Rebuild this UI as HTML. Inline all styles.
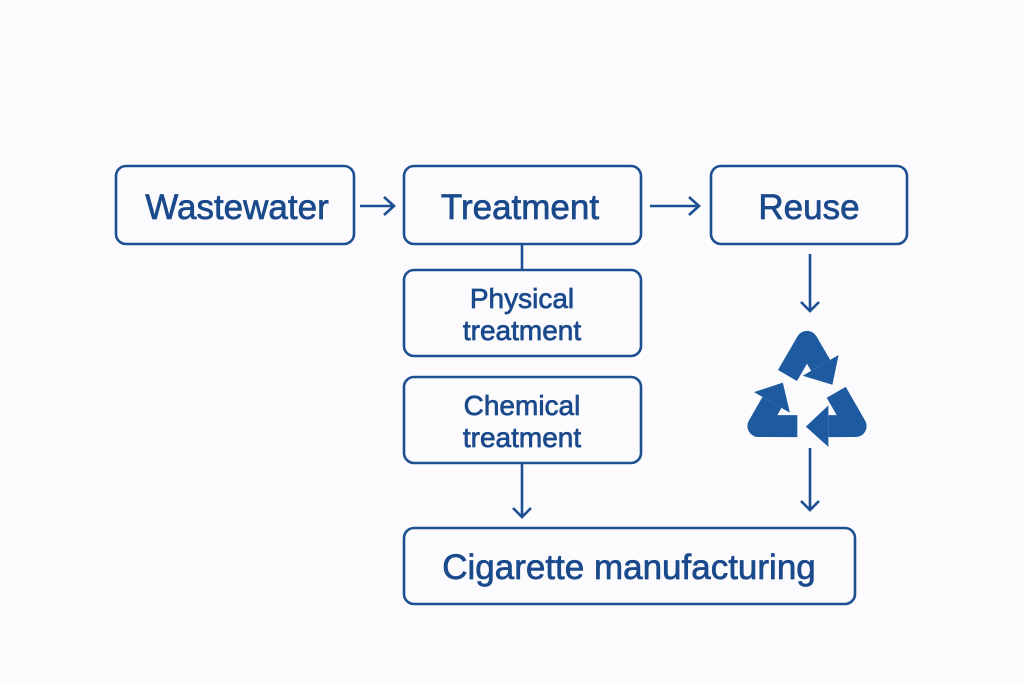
<!DOCTYPE html>
<html><head><meta charset="utf-8"><style>
body{margin:0;background:#fbfbfd;}
svg{display:block}
text{font-family:"Liberation Sans",sans-serif;fill:#1b4a8c;text-anchor:middle;stroke:#1b4a8c;stroke-width:0.7;}
</style></head><body>
<svg width="1024" height="683" viewBox="0 0 1024 683">
<rect width="1024" height="683" fill="#fbfbfd"/>
<g fill="none" stroke="#1d4f93" stroke-width="2.6">
<rect x="116" y="166" width="238" height="78" rx="10"/>
<rect x="404" y="166" width="237" height="78" rx="10"/>
<rect x="711" y="166" width="196" height="78" rx="10"/>
<rect x="404" y="270" width="237" height="86" rx="10"/>
<rect x="404" y="377" width="237" height="86" rx="10"/>
<rect x="404" y="528" width="451" height="76" rx="10"/>
<path d="M360 206H394M384 197L394 206L384 215"/>
<path d="M650 206H699M689 197L699 206L689 215"/>
<path d="M522 244V270"/>
<path d="M522 463V517M513 508L522 517L531 508"/>
<path d="M810 254V311M801 302L810 311L819 302"/>
<path d="M810 448V510M801 501L810 510L819 501"/>
</g>
<g font-size="35">
<text x="237" y="219">Wastewater</text>
<text x="520" y="219">Treatment</text>
<text x="809" y="219">Reuse</text>
<text x="629" y="579">Cigarette manufacturing</text>
</g>
<g font-size="28">
<text x="522" y="308">Physical</text>
<text x="522" y="340">treatment</text>
<text x="522" y="415">Chemical</text>
<text x="522" y="447">treatment</text>
</g>
<g transform="translate(807,398) scale(1.22)">
<g id="seg">
<polyline points="-16,-18.4 0,-46 11.2,-26.7" fill="none" stroke="#1d5aa0" stroke-width="18" stroke-linejoin="round"/>
<polygon points="25.9,-35.2 -3.5,-18.2 20.8,-10.9" fill="#1d5aa0"/>
</g>
<use href="#seg" transform="rotate(120)"/>
<use href="#seg" transform="rotate(240)"/>
</g>
</svg>
</body></html>
